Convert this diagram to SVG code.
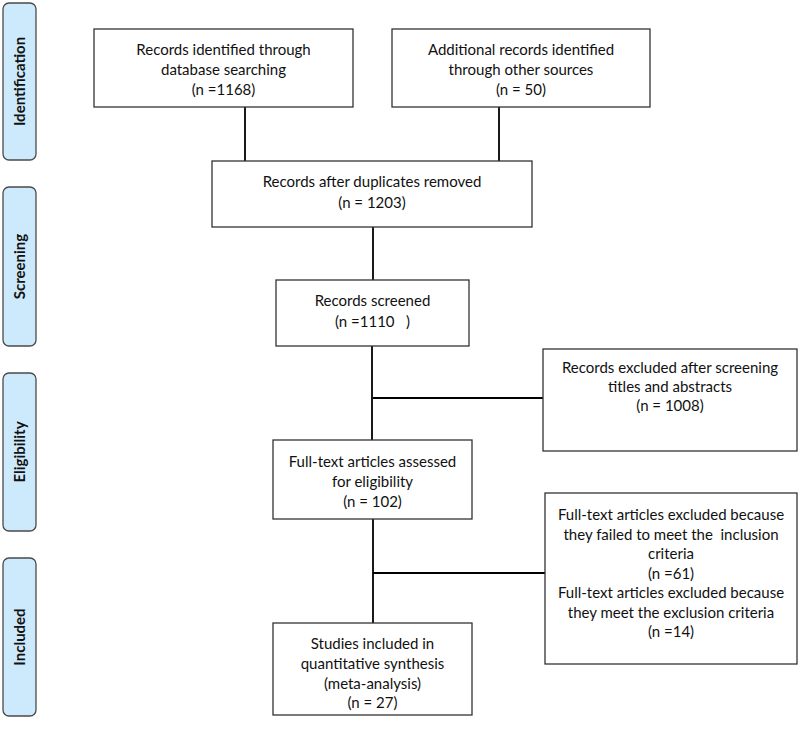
<svg xmlns="http://www.w3.org/2000/svg" width="800" height="732" viewBox="0 0 800 732">
<style>
.stage rect{fill:#cdeafc;stroke:#4a4a4a;stroke-width:1.3}
.stage text{font-family:Lato,"Open Sans",sans-serif;font-weight:bold;font-size:15px;fill:#111;text-anchor:middle}
.node rect{fill:#fff;stroke:#333;stroke-width:1.3}
.node text{font-family:Lato,"Open Sans",sans-serif;font-size:15px;fill:#111;text-anchor:middle}
#connectors line{stroke:#000;stroke-width:1.8}
</style>
<rect width="800" height="732" fill="#fff"/>
<g id="stage-identification" class="stage"><rect x="3" y="3" width="33" height="157" rx="6"/><text transform="translate(25 81.5) rotate(-90)">Identification</text></g>
<g id="stage-screening" class="stage"><rect x="3" y="187" width="33" height="159" rx="6"/><text transform="translate(25 266.5) rotate(-90)">Screening</text></g>
<g id="stage-eligibility" class="stage"><rect x="3" y="373" width="33" height="158" rx="6"/><text transform="translate(25 452) rotate(-90)">Eligibility</text></g>
<g id="stage-included" class="stage"><rect x="3" y="558" width="33" height="158" rx="6"/><text transform="translate(25 637) rotate(-90)">Included</text></g>
<g id="connectors">
<line x1="245" y1="107" x2="245" y2="161"/>
<line x1="499" y1="107" x2="499" y2="161"/>
<line x1="373" y1="227" x2="373" y2="280"/>
<line x1="372" y1="346" x2="372" y2="440"/>
<line x1="373" y1="398" x2="543" y2="398"/>
<line x1="373" y1="519" x2="373" y2="623"/>
<line x1="373" y1="573" x2="545" y2="573"/>
</g>
<g id="n-db" class="node"><rect x="94" y="29" width="259" height="78"/><text x="223.5" y="55">Records identified through</text><text x="223.5" y="75">database searching</text><text x="223.5" y="95">(n =1168)</text></g>
<g id="n-other" class="node"><rect x="392" y="29" width="258" height="78"/><text x="521" y="55">Additional records identified</text><text x="521" y="75">through other sources</text><text x="521" y="95">(n = 50)</text></g>
<g id="n-dup" class="node"><rect x="212" y="161" width="320" height="66"/><text x="372" y="187">Records after duplicates removed</text><text x="372" y="208">(n = 1203)</text></g>
<g id="n-screened" class="node"><rect x="276" y="280" width="193" height="66"/><text x="372.5" y="306">Records screened</text><text x="372.5" y="327" xml:space="preserve">(n =1110   )</text></g>
<g id="n-excl1" class="node"><rect x="543" y="349" width="254" height="102"/><text x="670" y="373">Records excluded after screening</text><text x="670" y="392">titles and abstracts</text><text x="670" y="411">(n = 1008)</text></g>
<g id="n-full" class="node"><rect x="273" y="440" width="199" height="79"/><text x="372.5" y="467">Full-text articles assessed</text><text x="372.5" y="487">for eligibility</text><text x="372.5" y="507">(n = 102)</text></g>
<g id="n-excl2" class="node"><rect x="545" y="493" width="252" height="171"/><text x="671" y="520">Full-text articles excluded because</text><text x="671" y="540" xml:space="preserve">they failed to meet the  inclusion</text><text x="671" y="559">criteria</text><text x="671" y="579">(n =61)</text><text x="671" y="598">Full-text articles excluded because</text><text x="671" y="618">they meet the exclusion criteria</text><text x="671" y="637">(n =14)</text></g>
<g id="n-incl" class="node"><rect x="273" y="623" width="199" height="92"/><text x="372.5" y="649">Studies included in</text><text x="372.5" y="669">quantitative synthesis</text><text x="372.5" y="689">(meta-analysis)</text><text x="372.5" y="708">(n = 27)</text></g>
</svg>
